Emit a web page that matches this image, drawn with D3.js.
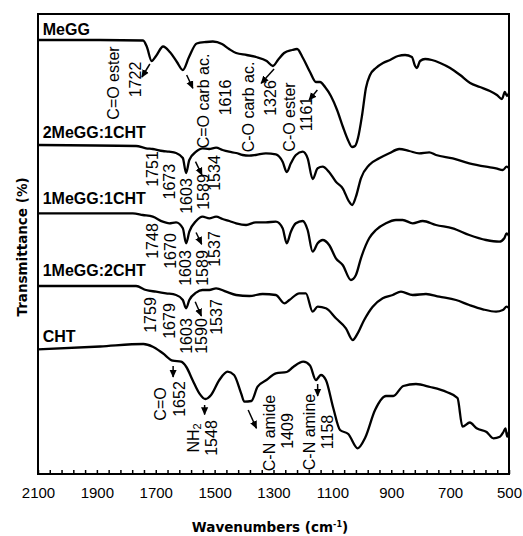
<!DOCTYPE html>
<html>
<head>
<meta charset="utf-8">
<script src="https://cdn.jsdelivr.net/npm/d3@7"></script>
<style>
  html, body { margin: 0; padding: 0; background: #fff; }
</style>
</head>
<body>
<svg id="chart" width="523" height="536"></svg>
<script>
// FTIR spectra, stacked with offsets (arbitrary transmittance units)
const megg = [[2100,434],[1889,434],[1743,433.5],[1730,427],[1714,413],[1699,418],[1675,427.5],[1652,422],[1628,412],[1608,404],[1587,417],[1561,430.5],[1529,432],[1506,432.5],[1475,430],[1451,425],[1427,421],[1391,419],[1359,417],[1323,413],[1302,408],[1285,414],[1264,421],[1237,424],[1220,425],[1200,416],[1176,402],[1156,392],[1142,392],[1125,387],[1105,378],[1084,364],[1064,347],[1047,334],[1033,327],[1023,328],[1013,336],[999,359],[986,386],[972,399],[952,406],[928,411],[904,414],[877,418],[853,419],[830,417],[819,408],[813,406],[802,413],[785,415],[762,414],[734,411],[700,406],[666,399],[632,391],[599,387],[565,383],[541,379],[524,375],[514,382],[507,378],[500,381]]

const megg2cht1 = [[2100,329],[1767,328],[1733,325.7],[1710,325],[1676,323],[1655,322.3],[1631,321],[1608,316],[1597,301],[1586,314],[1563,322.3],[1541,325.7],[1519,325],[1495,326.3],[1473,324],[1451,322.3],[1427,321],[1405,319],[1383,318.3],[1360,319],[1326,320.7],[1292,319.7],[1269,312.3],[1255,302],[1241,310.7],[1224,319],[1201,322.3],[1184,315.7],[1167,295],[1150,305.7],[1133,307.3],[1112,302.3],[1088,292.3],[1065,285.7],[1043,272.3],[1033,269],[1020,277.3],[1003,295.7],[975,309],[941,315.7],[907,320.7],[873,325],[839,323],[805,320.7],[771,321.7],[748,319],[691,315.7],[635,310.7],[578,307.3],[544,305.7],[521,304],[508,307.3],[500,306]]

const megg1cht1 = [[2100,260.7],[1778,260.7],[1744,259],[1710,257.3],[1676,252.3],[1654,250.7],[1631,251.7],[1608,245.7],[1597,230.7],[1586,242.3],[1563,253],[1541,257.3],[1518,255.7],[1495,257.3],[1473,255],[1450,253],[1427,250.7],[1393,249],[1360,251.7],[1326,251.7],[1292,252.3],[1269,245.7],[1255,230.7],[1241,242.3],[1224,250.7],[1201,253],[1184,244],[1167,222.3],[1150,230.7],[1133,234],[1111,229],[1088,215.7],[1065,209],[1037,194],[1020,199],[1003,215.7],[975,235.7],[952,244],[918,250.7],[884,254],[861,254],[827,250.7],[793,253],[748,249],[691,245.7],[635,239],[578,234],[533,232.3],[516,235.7],[508,240.7],[500,238]]

const megg1cht2 = [[2100,188],[1767,188],[1733,184],[1699,182.3],[1665,180.7],[1631,179],[1608,174],[1597,165.7],[1586,174],[1563,181.3],[1541,184],[1518,184],[1495,185.7],[1461,182.3],[1427,179],[1382,178],[1337,180],[1292,179],[1263,170.7],[1246,174],[1212,180.7],[1190,180.7],[1167,162.3],[1150,167.3],[1122,165.7],[1088,155.7],[1054,145.7],[1031,134],[1014,140.7],[992,154],[963,167.3],[929,175.7],[895,179],[867,182.3],[827,179],[782,180],[737,177.3],[680,174],[635,169],[589,164.7],[544,162.3],[521,164],[508,167.3],[500,166]]

const cht = [[2100,124.7],[1889,127.5],[1742,130],[1710,127.3],[1676,120.7],[1642,113.3],[1614,112.3],[1596,107],[1575,94],[1552,80.7],[1531,75],[1512,79],[1484,94],[1456,102.3],[1434,99],[1410,80.7],[1399,72.3],[1375,73],[1354,87.3],[1324,94],[1292,100.7],[1255,102],[1233,107],[1199,112.3],[1176,108.5],[1156,94],[1139,99],[1122,94],[1097,66],[1074,44],[1046,40],[1014,25.7],[989,36],[955,64],[918,78],[893,78],[859,88],[816,90],[768,87],[712,82],[675,76],[658,47.3],[633,51.5],[610,45.7],[576,42],[553,35.7],[531,37.3],[519,42],[512,45.7],[506,37.3],[500,42]]

const spectra = [megg, megg2cht1, megg1cht1, megg1cht2, cht]
const sampleNames = ['MeGG', '2MeGG:1CHT', '1MeGG:1CHT', '1MeGG:2CHT', 'CHT']
const sampleLabelLevels = [439, 336, 270, 198, 132.5]

const xTicks = d3.range(500, 2101, 40)

// band assignments: text, wavenumber position, level
const bandLabels = [
  { text: 'C=O ester', wn: 1845, t: 391 },
  { text: '1722', wn: 1770, t: 394.5 },
  { text: 'C=O carb ac.', wn: 1540, t: 373 },
  { text: '1616', wn: 1466, t: 376.5 },
  { text: 'C-O carb ac.', wn: 1385, t: 367 },
  { text: '1326', wn: 1312, t: 376 },
  { text: 'C-O ester', wn: 1247, t: 357 },
  { text: '1161', wn: 1190, t: 360 },
  { text: '1751', wn: 1713, t: 305 },
  { text: '1673', wn: 1654, t: 292.3 },
  { text: '1603', wn: 1597, t: 278 },
  { text: '1589', wn: 1540, t: 282 },
  { text: '1534', wn: 1502, t: 301 },
  { text: '1748', wn: 1713, t: 233 },
  { text: '1670', wn: 1653, t: 223 },
  { text: '1603', wn: 1599, t: 206 },
  { text: '1589', wn: 1543, t: 206 },
  { text: '1537', wn: 1503, t: 225 },
  { text: '1759', wn: 1718, t: 159 },
  { text: '1679', wn: 1655, t: 153 },
  { text: '1603', wn: 1597, t: 138 },
  { text: '1590', wn: 1545, t: 138 },
  { text: '1537', wn: 1497, t: 157 },
  { text: 'C=O', wn: 1686, t: 70 },
  { text: '1652', wn: 1622, t: 75 },
  { text: 'NH', sub: '2', wn: 1574, t: 36 },
  { text: '1548', wn: 1514, t: 36 },
  { text: 'C-N amide', wn: 1315, t: 41 },
  { text: '1409', wn: 1255, t: 43 },
  { text: 'C-N amine', wn: 1180, t: 42 },
  { text: '1158', wn: 1118, t: 42 }
]

const bandArrows = [
  { from: [1720, 410], to: [1747, 397] },
  { from: [1595, 399], to: [1574, 385.7] },
  { from: [1298, 405], to: [1342, 390.7] },
  { from: [1151, 384], to: [1179, 374] },
  { from: [1565, 312.3], to: [1543, 299] },
  { from: [1563, 241.5], to: [1544, 229.8] },
  { from: [1566, 172.3], to: [1545, 158] },
  { from: [1641, 108], to: [1641, 97] },
  { from: [1534, 69], to: [1534, 59.5] },
  { from: [1386, 64], to: [1358, 45.7] },
  { from: [1150, 90], to: [1150, 78] }
]

const svg = d3.select('#chart')
const textFont = '"Liberation Sans", Arial, sans-serif'
const titleFont = '"DejaVu Sans", Verdana, sans-serif'

const x = d3.scaleLinear().domain([2100, 500]).range([38, 509])
const y = d3.scaleLinear().domain([0, 460]).range([474, 14])

svg.append('defs')
  .append('marker')
  .attr('id', 'head')
  .attr('viewBox', '0 0 10 10')
  .attr('refX', 9)
  .attr('refY', 5)
  .attr('markerUnits', 'userSpaceOnUse')
  .attr('markerWidth', 8)
  .attr('markerHeight', 8)
  .attr('orient', 'auto')
  .append('path')
  .attr('d', 'M0,0.5 L10,5 L0,9.5 Z')
  .attr('fill', '#000')

// frame
svg.append('rect')
  .attr('x', x(2100))
  .attr('y', y(460))
  .attr('width', x(500) - x(2100))
  .attr('height', y(0) - y(460))
  .attr('fill', 'none')
  .attr('stroke', '#000')
  .attr('stroke-width', 2)

// x axis
const xAxis = d3.axisBottom(x)
  .tickValues(xTicks)
  .tickSizeInner(-4)
  .tickSizeOuter(0)
  .tickPadding(13)
  .tickFormat(d => (2100 - d) % 200 === 0 ? d : '')

const gx = svg.append('g')
  .attr('transform', `translate(0,${y(0)})`)
  .call(xAxis)
gx.select('.domain').remove()
gx.selectAll('line').attr('stroke', '#000').attr('stroke-width', 1.5)
gx.selectAll('text')
  .attr('fill', '#000')
  .attr('font-size', 15)
  .attr('font-family', textFont)

// spectra
const line = d3.line()
  .x(d => x(d[0]))
  .y(d => y(d[1]))
  .curve(d3.curveMonotoneX)

svg.selectAll('path.spectrum')
  .data(spectra)
  .enter()
  .append('path')
  .attr('class', 'spectrum')
  .attr('d', line)
  .attr('fill', 'none')
  .attr('stroke', '#000')
  .attr('stroke-width', 2.3)
  .attr('stroke-linejoin', 'round')

// sample names
svg.selectAll('text.sample')
  .data(sampleNames)
  .enter()
  .append('text')
  .attr('class', 'sample')
  .attr('x', x(2084))
  .attr('y', (d, i) => y(sampleLabelLevels[i]))
  .attr('font-family', textFont)
  .attr('font-weight', 'bold')
  .attr('font-size', 16)
  .text(d => d)

// band arrows
svg.selectAll('line.arrow')
  .data(bandArrows)
  .enter()
  .append('line')
  .attr('class', 'arrow')
  .attr('x1', d => x(d.from[0]))
  .attr('y1', d => y(d.from[1]))
  .attr('x2', d => x(d.to[0]))
  .attr('y2', d => y(d.to[1]))
  .attr('stroke', '#000')
  .attr('stroke-width', 1.5)
  .attr('marker-end', 'url(#head)')

// band labels (rotated)
svg.selectAll('text.band')
  .data(bandLabels)
  .enter()
  .append('text')
  .attr('class', 'band')
  .attr('transform', d => `translate(${x(d.wn)},${y(d.t)}) rotate(-90)`)
  .attr('text-anchor', 'middle')
  .attr('dominant-baseline', 'central')
  .attr('font-family', textFont)
  .attr('font-size', 16)
  .each(function (d) {
    const t = d3.select(this)
    t.append('tspan').text(d.text)
    if (d.sub) {
      t.append('tspan').attr('font-size', 11).attr('dy', 4).text(d.sub)
    }
  })

// axis titles
svg.append('text')
  .attr('transform', 'translate(22,247) rotate(-90)')
  .attr('text-anchor', 'middle')
  .attr('dominant-baseline', 'central')
  .attr('font-family', titleFont)
  .attr('font-weight', 'bold')
  .attr('font-size', 13.5)
  .text('Transmittance (%)')

const xt = svg.append('text')
  .attr('x', 270)
  .attr('y', 532)
  .attr('text-anchor', 'middle')
  .attr('font-family', titleFont)
  .attr('font-weight', 'bold')
  .attr('font-size', 13.5)
xt.append('tspan').text('Wavenumbers (cm')
xt.append('tspan').attr('font-size', 8).attr('dy', -5).text('-1')
xt.append('tspan').attr('dy', 5).text(')')
</script>
</body>
</html>
